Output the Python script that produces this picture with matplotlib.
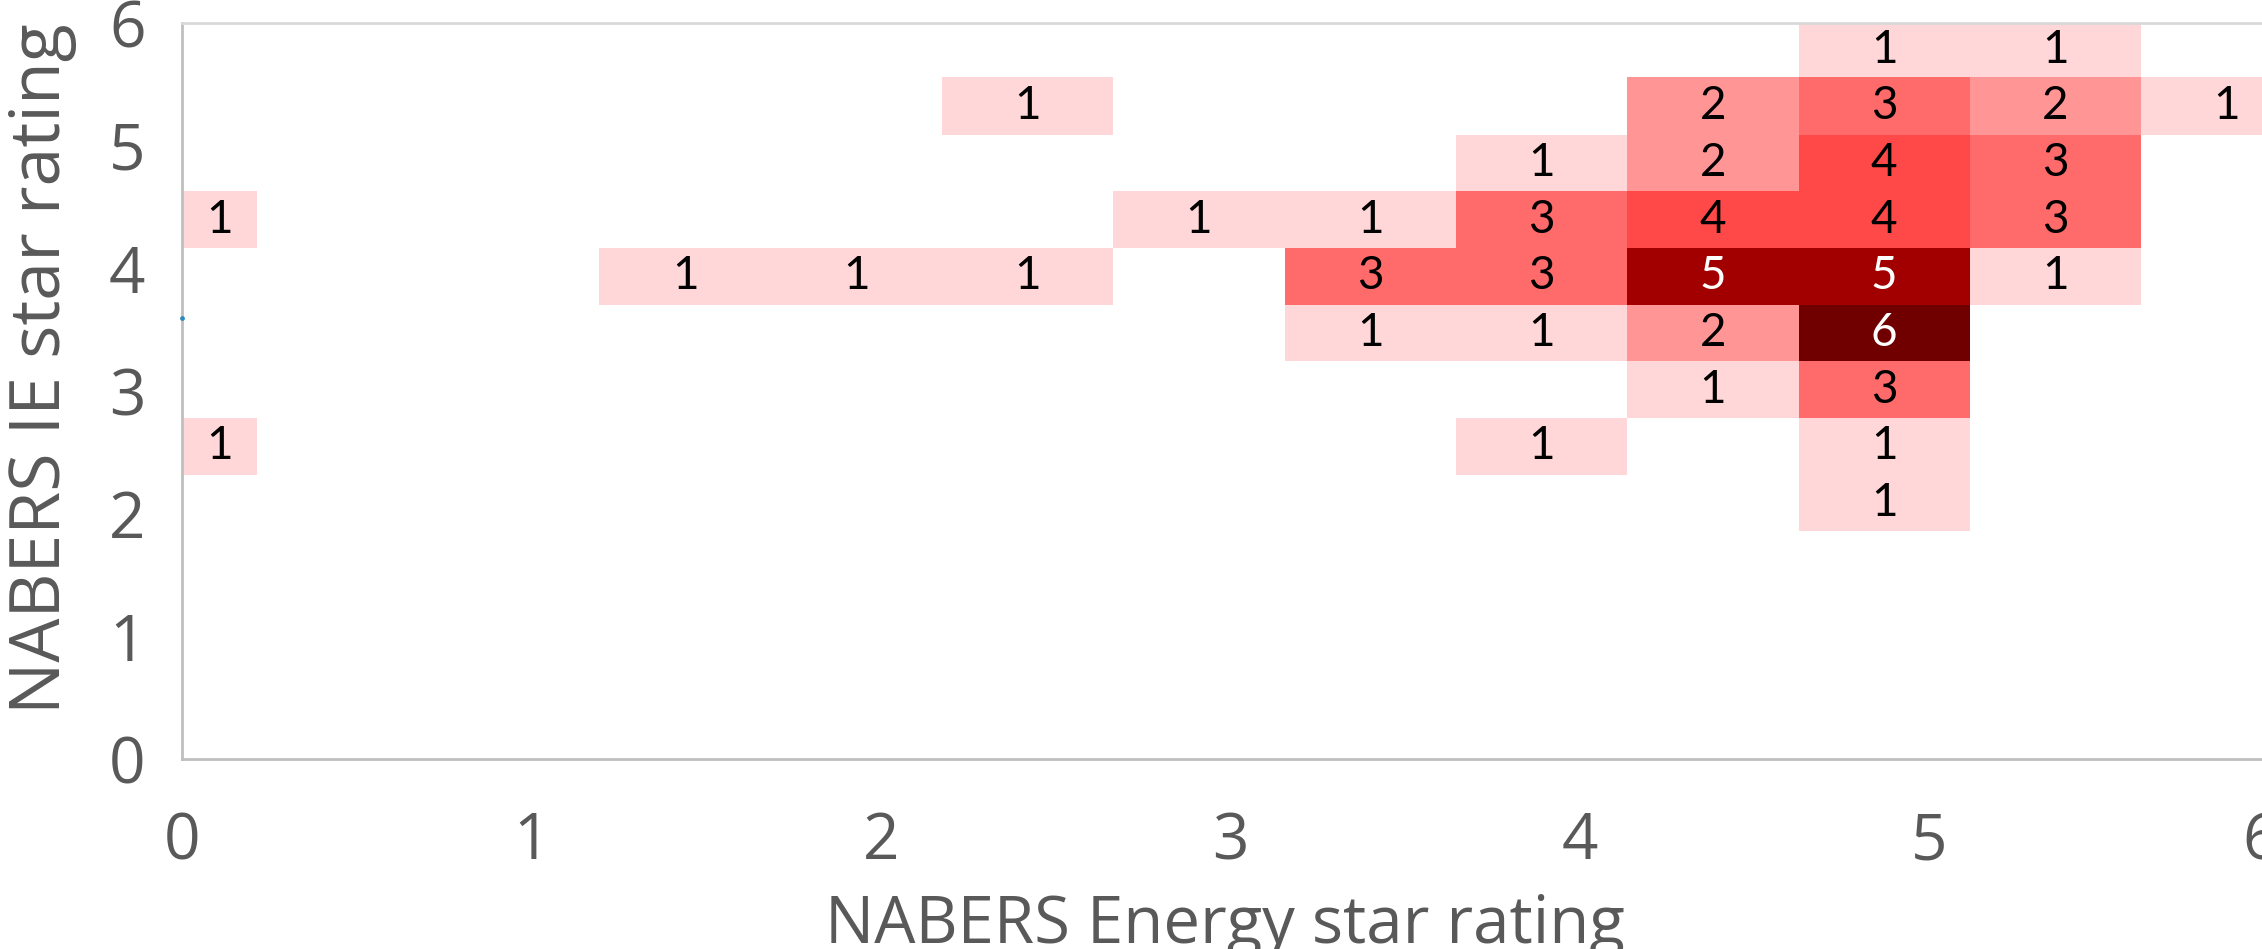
import numpy as np
import matplotlib
matplotlib.use('Agg')
import matplotlib.pyplot as plt
from matplotlib.colors import ListedColormap, BoundaryNorm

# Bin edges of the heat map (Energy on x, IE on y)
x_edges = [-0.275, 0.215, 0.705, 1.195, 1.685, 2.175, 2.665, 3.155,
           3.645, 4.135, 4.625, 5.115, 5.605, 6.095]
y_edges = [1.858, 2.317, 2.779, 3.241, 3.703, 4.165, 4.627, 5.088, 5.556, 6.02]

# Counts per cell, top row first
counts_top_down = [
    [0, 0, 0, 0, 0, 0, 0, 0, 0, 0, 1, 1, 0],
    [0, 0, 0, 0, 0, 1, 0, 0, 0, 2, 3, 2, 1],
    [0, 0, 0, 0, 0, 0, 0, 0, 1, 2, 4, 3, 0],
    [1, 0, 0, 0, 0, 0, 1, 1, 3, 4, 4, 3, 0],
    [0, 0, 0, 1, 1, 1, 0, 3, 3, 5, 5, 1, 0],
    [0, 0, 0, 0, 0, 0, 0, 1, 1, 2, 6, 0, 0],
    [0, 0, 0, 0, 0, 0, 0, 0, 0, 1, 3, 0, 0],
    [1, 0, 0, 0, 0, 0, 0, 0, 1, 0, 1, 0, 0],
    [0, 0, 0, 0, 0, 0, 0, 0, 0, 0, 1, 0, 0],
]

# colour for each count 1..6
count_colors = ['#FFD7D8', '#FF9595', '#FF6B6B', '#FF4949', '#A20000', '#700000']

# stray scatter point on the y axis
dot_x = [0]
dot_y = [3.59]

x_ticks = [0, 1, 2, 3, 4, 5, 6]
y_ticks = [0, 1, 2, 3, 4, 5, 6]

counts = np.array(counts_top_down[::-1], dtype=float)
grid = np.where(counts > 0, counts, np.nan)

fig = plt.figure(figsize=(22.62, 9.49), dpi=100)
ax = fig.add_axes([0.0803, 0.2002, 0.9273, 0.7759])

cmap = ListedColormap(count_colors)
norm = BoundaryNorm(np.arange(0.5, 7.5, 1), cmap.N)
ax.pcolormesh(x_edges, y_edges, grid, cmap=cmap, norm=norm)

# numbers in the cells
for r in range(counts.shape[0]):
    for c in range(counts.shape[1]):
        n = int(counts[r, c])
        if n == 0:
            continue
        left = max(x_edges[c], 0)
        xc = (left + x_edges[c + 1]) / 2
        yc = (y_edges[r] + min(y_edges[r + 1], 6)) / 2
        ax.text(xc, yc, str(n), ha='center', va='center', fontsize=33,
                family='Lato', color='white' if n >= 5 else 'black')

ax.scatter(dot_x, dot_y, s=6, color='#2E8BC0', zorder=5, clip_on=False)

ax.set_xlim(0, 6)
ax.set_ylim(0, 6)
ax.set_xticks(x_ticks)
ax.set_yticks(y_ticks)
ax.tick_params(axis='both', labelsize=46, labelcolor='#595959', length=0)
ax.tick_params(axis='x', pad=37)
ax.tick_params(axis='y', pad=26)
for lab in ax.get_xticklabels() + ax.get_yticklabels():
    lab.set_family('Open Sans')
# last x label pushed inside like the original
ax.get_xticklabels()[-1].set_ha('right')

for side in ['left', 'bottom']:
    ax.spines[side].set_color('#BFBFBF')
    ax.spines[side].set_linewidth(2)
for side in ['top', 'right']:
    ax.spines[side].set_color('#D9D9D9')
    ax.spines[side].set_linewidth(2)

fig.text(0.5415, 0.006, 'NABERS Energy star rating', ha='center', va='baseline',
         fontsize=47, family='Open Sans', color='#595959')

# y title: size it so that it spans the same height as in the original
ylab = fig.text(0.003, 0.612, 'NABERS IE star rating', ha='left', va='center',
                rotation=90, fontsize=50, family='Open Sans', color='#595959')
renderer = fig.canvas.get_renderer()
h = ylab.get_window_extent(renderer).height
ylab.set_fontsize(50 * 690 / h)

fig.savefig('out.png', dpi=100)
